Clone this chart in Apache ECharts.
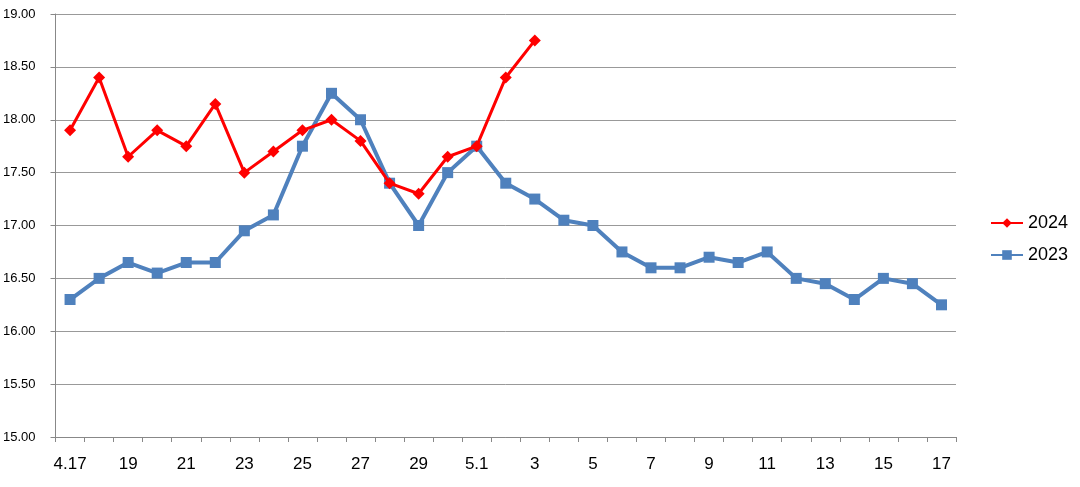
<!DOCTYPE html>
<html>
<head>
<meta charset="utf-8">
<script src="https://cdn.jsdelivr.net/npm/echarts@6/dist/echarts.min.js"></script>
<style>html,body{margin:0;padding:0;background:#fff}#c{width:1080px;height:487px}</style>
</head>
<body>
<div id="c"></div>
<script>
var categories = ['4.17','18','19','20','21','22','23','24','25','26','27','28','29','30','5.1','2','3','4','5','6','7','8','9','10','11','12','13','14','15','16','17'];
var values2024 = [17.90,18.40,17.65,17.90,17.75,18.15,17.50,17.70,17.90,18.00,17.80,17.40,17.30,17.65,17.75,18.40,18.75];
var values2023 = [16.30,16.50,16.65,16.55,16.65,16.65,16.95,17.10,17.75,18.25,18.00,17.40,17.00,17.50,17.75,17.40,17.25,17.05,17.00,16.75,16.60,16.60,16.70,16.65,16.75,16.50,16.45,16.30,16.50,16.45,16.25];
var yTicks = {min: 15, max: 19, interval: 0.5};

var chart = echarts.init(document.getElementById('c'));
var font = 'Liberation Sans, Arial, sans-serif';
chart.setOption({
  animation: false,
  backgroundColor: '#fff',
  grid: {left: 54, right: 124, top: 14, bottom: 50, containLabel: false},
  legend: {
    orient: 'vertical', left: 985, top: 209, itemWidth: 32, itemHeight: 12, itemGap: 14,
    textStyle: {fontFamily: font, fontSize: 18, color: '#000'},
    data: ['2024', '2023']
  },
  xAxis: {
    type: 'category', data: categories, boundaryGap: true,
    axisLine: {lineStyle: {color: '#888', width: 1}},
    axisTick: {show: true, interval: 0, length: 5, lineStyle: {color: '#888'}},
    axisLabel: {interval: 1, color: '#000', fontFamily: font, fontSize: 17, margin: 19}
  },
  yAxis: {
    type: 'value', min: yTicks.min, max: yTicks.max, interval: yTicks.interval,
    axisLine: {show: true, lineStyle: {color: '#888', width: 1}},
    axisTick: {show: true, length: 5, lineStyle: {color: '#888'}},
    splitLine: {lineStyle: {color: '#999', width: 1}},
    axisLabel: {color: '#000', fontFamily: font, fontSize: 13, margin: 20,
      formatter: function (v) { return v.toFixed(2); }}
  },
  series: [
    {
      name: '2024', type: 'line', data: values2024,
      symbol: 'diamond', symbolSize: 12, showAllSymbol: true,
      lineStyle: {color: '#ff0000', width: 3},
      itemStyle: {color: '#ff0000'},
      z: 3
    },
    {
      name: '2023', type: 'line', data: values2023,
      symbol: 'rect', symbolSize: 11, showAllSymbol: true,
      lineStyle: {color: '#4f81bd', width: 4},
      itemStyle: {color: '#4f81bd'},
      z: 2
    }
  ]
});
</script>
</body>
</html>
